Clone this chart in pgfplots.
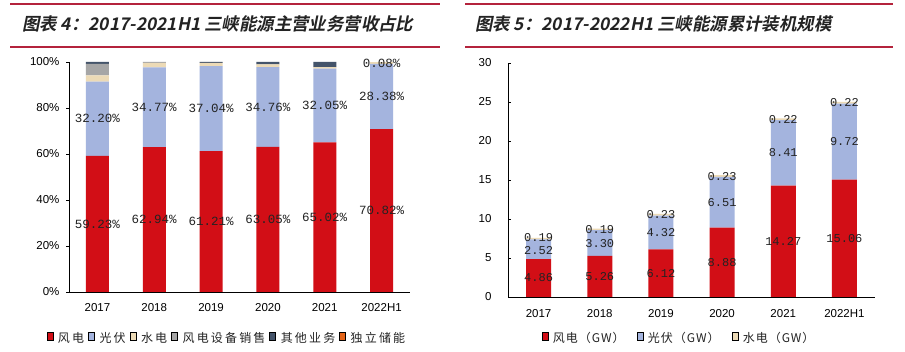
\documentclass[border=0pt]{standalone}
\usepackage{fontspec}
\usepackage{pgfplots}
\usepackage{pgfplotstable}
\pgfplotsset{compat=1.18}
\setmainfont{Liberation Sans}
\newfontfamily\cjk{Noto Sans CJK SC}
\newfontfamily\cjkleg[LetterSpace=18]{Noto Sans CJK SC}
\newfontfamily\cjklegr[LetterSpace=8]{Noto Sans CJK SC}
\newfontfamily\cjktitle[FakeSlant=0.2]{Noto Sans CJK SC Bold}
\newfontfamily\monolab{Liberation Mono}

\definecolor{cw}{RGB}{210,14,22}
\definecolor{cp}{RGB}{164,180,222}
\definecolor{ch}{RGB}{236,218,182}
\definecolor{cg}{RGB}{166,166,166}
\definecolor{cd}{RGB}{68,84,106}
\definecolor{co}{RGB}{228,100,24}
\definecolor{cline}{RGB}{180,35,60}
\definecolor{ctxt}{RGB}{35,35,35}

\pgfplotstableread{
x wind pv hydro equip other storage
0 59.23 32.20 2.80 5.00 0.77 0
1 62.94 34.77 1.90 0.39 0.00 0
2 61.21 37.04 1.40 0.00 0.35 0
3 63.05 34.76 1.20 0.00 0.99 0
4 65.02 32.05 0.73 0.00 2.20 0
5 70.82 28.38 0.72 0.00 0.00 0.08
}\leftdata

\pgfplotstableread{
x y lab
0 29.6 59.23
0 75.3 32.20
1 31.5 62.94
1 80.3 34.77
2 30.6 61.21
2 79.7 37.04
3 31.5 63.05
3 80.4 34.76
4 32.5 65.02
4 81.0 32.05
5 35.4 70.82
5 85.0 28.38
5 99.6 0.08
}\leftlabels

\pgfplotstableread{
x wind pv hydro
0 4.86 2.52 0.19
1 5.26 3.30 0.19
2 6.12 4.32 0.23
3 8.88 6.51 0.23
4 14.27 8.41 0.22
5 15.06 9.72 0.22
}\rightdata

\pgfplotstableread{
x y lab
0 2.43 4.86
0 5.95 2.52
0 7.62 0.19
1 2.63 5.26
1 6.91 3.30
1 8.655 0.19
2 3.06 6.12
2 8.28 4.32
2 10.555 0.23
3 4.44 8.88
3 12.135 6.51
3 15.505 0.23
4 7.135 14.27
4 18.475 8.41
4 22.79 0.22
5 7.53 15.06
5 19.92 9.72
5 24.89 0.22
}\rightlabels

\pgfplotsset{
  basebar/.style={
    scale only axis,
    xmin=-0.5, xmax=5.5, ymin=0,
    clip=false,
    /pgf/number format/assume math mode=true,
  },
  labelaxis/.style={
    basebar, hide axis,
  },
  mylegend/.style={
    legend columns=-1,
    legend style={draw=none, fill=none, text=ctxt,
      /tikz/every odd column/.append style={column sep=3pt},
      /tikz/every even column/.append style={column sep=2pt}},
    legend image code/.code={\fill[##1] (0pt,-3pt) rectangle (6pt,3pt);},
  },
}

\begin{document}
\begin{tikzpicture}
\useasboundingbox (0pt,0pt) rectangle (905pt,352pt);
\fill[white] (0pt,0pt) rectangle (905pt,352pt);

% title bars
\draw[cline, line width=1.3pt] (10pt,348pt) -- (440pt,348pt);
\draw[cline, line width=1.3pt] (10pt,305pt) -- (440pt,305pt);
\draw[cline, line width=1.3pt] (465pt,348pt) -- (893pt,348pt);
\draw[cline, line width=1.3pt] (465pt,305pt) -- (893pt,305pt);
\node[anchor=west, inner sep=0pt, text=ctxt] at (22pt,328pt) {\cjktitle\fontsize{17.4}{20}\selectfont 图表 4：2017-2021H1 三峡能源主营业务营收占比};
\node[anchor=west, inner sep=0pt, text=ctxt] at (475pt,328pt) {\cjktitle\fontsize{17.4}{20}\selectfont 图表 5：2017-2022H1 三峡能源累计装机规模};

% ---------- left chart ----------
\begin{axis}[
  basebar, mylegend,
  at={(69pt,60pt)}, anchor=south west,
  width=341pt, height=230pt,
  ybar stacked, bar width=23pt,
  ymax=100,
  xtick={0,...,5}, xticklabels={2017,2018,2019,2020,2021,2022H1},
  ytick={0,20,...,100}, yticklabel={\pgfmathprintnumber{\tick}\%},
  axis x line*=bottom, axis y line*=left,
  axis line style={line width=0.9pt, black, -},
  xtick style={draw=none},
  ytick style={line width=0.8pt, black},
  tick align=outside, major tick length=3pt,
  tick label style={font=\fontsize{11.5}{13}\selectfont, text=black},
  xticklabel style={yshift=-5pt},
  yticklabel style={xshift=-3pt},
  legend style={at={(0.463,-0.2)}, anchor=center, font=\cjkleg\fontsize{12}{14}\selectfont},
]
\addplot[fill=cw, draw=none] table[x=x, y=wind] {\leftdata};
\addplot[fill=cp, draw=none] table[x=x, y=pv] {\leftdata};
\addplot[fill=ch, draw=none] table[x=x, y=hydro] {\leftdata};
\addplot[fill=cg, draw=none] table[x=x, y=equip] {\leftdata};
\addplot[fill=cd, draw=none] table[x=x, y=other] {\leftdata};
\addplot[fill=co, draw=none] table[x=x, y=storage] {\leftdata};
\legend{风电,光伏,水电,风电设备销售,其他业务,独立储能}
\end{axis}
\begin{axis}[
  labelaxis,
  at={(69pt,60pt)}, anchor=south west,
  width=341pt, height=230pt, ymax=100,
]
\addplot[only marks, mark=none, point meta=explicit symbolic,
  nodes near coords={\pgfplotspointmeta\%},
  nodes near coords align={anchor=center},
  every node near coord/.append style={anchor=center, inner sep=0pt,
    font=\monolab\fontsize{12.5}{14}\selectfont, text=ctxt}]
  table[x=x, y=y, meta=lab] {\leftlabels};
\end{axis}

% ---------- right chart ----------
\begin{axis}[
  basebar, mylegend,
  at={(508pt,55pt)}, anchor=south west,
  width=367pt, height=234pt,
  ybar stacked, bar width=25pt,
  ymax=30,
  xtick={0,...,5}, xticklabels={2017,2018,2019,2020,2021,2022H1},
  ytick={0,5,...,30},
  axis x line*=bottom, axis y line*=left,
  axis line style={line width=0.9pt, black, -},
  xtick style={draw=none},
  ytick style={line width=0.8pt, black},
  tick align=inside, major tick length=3pt,
  yticklabel style={xshift=-13pt},
  xticklabel style={yshift=-9pt},
  tick label style={font=\fontsize{11.5}{13}\selectfont, text=black},
  legend style={at={(0.466,-0.175)}, anchor=center, font=\cjklegr\fontsize{12}{14}\selectfont,
    /tikz/every even column/.append style={column sep=10pt}},
]
\addplot[fill=cw, draw=none] table[x=x, y=wind] {\rightdata};
\addplot[fill=cp, draw=none] table[x=x, y=pv] {\rightdata};
\addplot[fill=ch, draw=none] table[x=x, y=hydro] {\rightdata};
\legend{风电（GW）,光伏（GW）,水电（GW）}
\end{axis}
\begin{axis}[
  labelaxis,
  at={(508pt,55pt)}, anchor=south west,
  width=367pt, height=234pt, ymax=30,
]
\addplot[only marks, mark=none, point meta=explicit symbolic,
  nodes near coords={\pgfplotspointmeta},
  nodes near coords align={anchor=center},
  every node near coord/.append style={anchor=center, inner sep=0pt,
    font=\monolab\fontsize{12}{14}\selectfont, text=ctxt}]
  table[x=x, y=y, meta=lab] {\rightlabels};
\end{axis}
\end{tikzpicture}
\end{document}
